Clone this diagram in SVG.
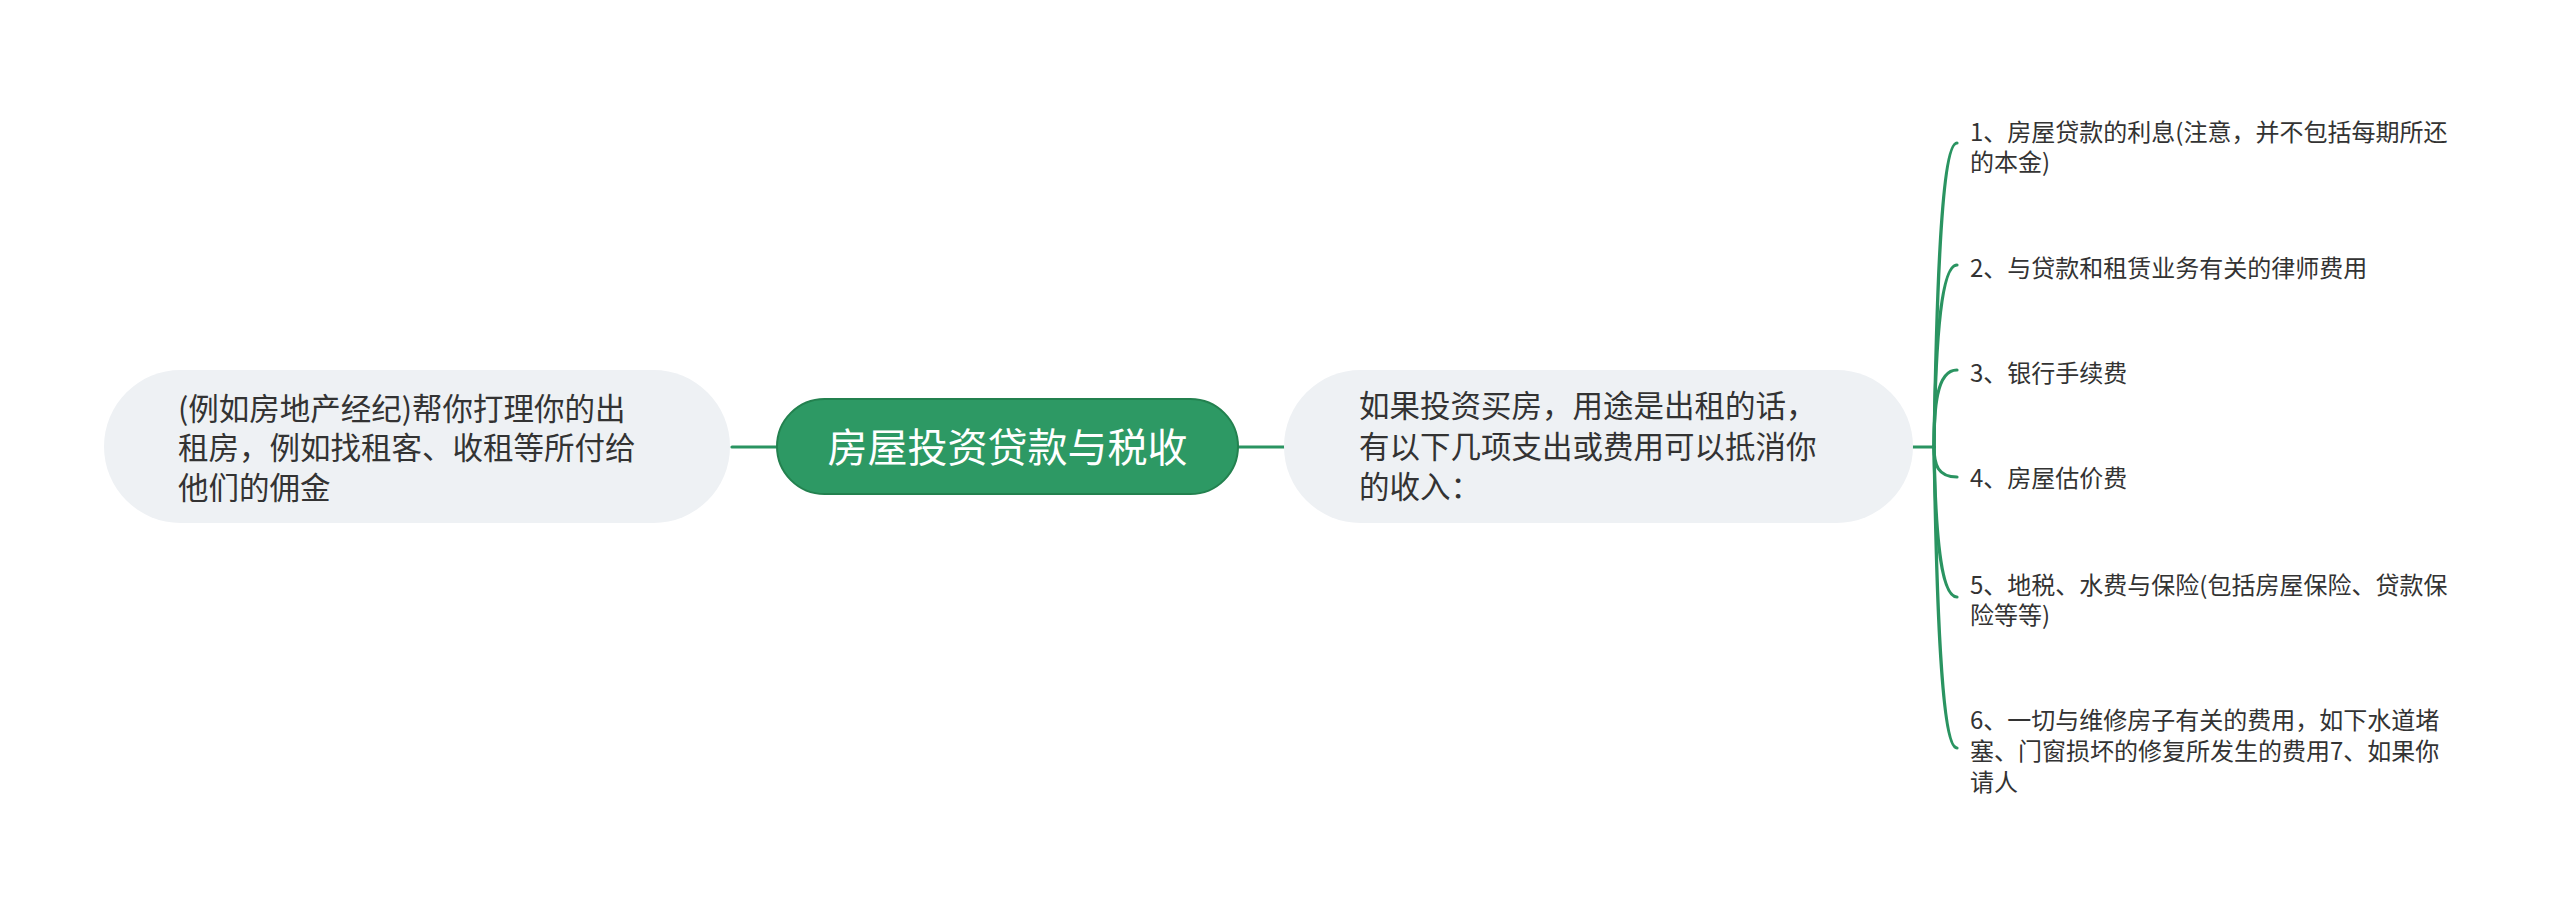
<svg xmlns="http://www.w3.org/2000/svg" width="2560" height="909" viewBox="0 0 2560 909">
<style>
.t{font-family:"Noto Sans CJK SC","Noto Sans",sans-serif;fill:#333333}
.m{font-size:30.5px}
.s{font-size:24px}
.c{font-family:"Noto Sans CJK SC","Noto Sans",sans-serif;font-size:40px;fill:#ffffff}
.n{fill:#eef1f4}
.l{fill:none;stroke:#2a9461;stroke-width:3.2;stroke-linecap:round}
</style>
<rect width="2560" height="909" fill="#ffffff"/>
<g id="connectors">
<path class="l" d="M732,447 L777,447"/>
<path class="l" d="M1238,447 L1284,447"/>
<path class="l" d="M1913,447 L1934,447"/>
<path class="l" d="M1934,447 C1936,325 1940,143 1957,143"/>
<path class="l" d="M1934,447 C1935,375 1938,265 1957,265"/>
<path class="l" d="M1934,447 C1934,410 1936,370 1957,370"/>
<path class="l" d="M1934,447 C1934,465 1938,477 1957,477"/>
<path class="l" d="M1934,447 C1935,510 1938,597 1957,597"/>
<path class="l" d="M1934,447 C1936,570 1940,748 1957,748"/>
</g>
<g id="center">
<rect x="777" y="399" width="461" height="95" rx="47.5" fill="#2d9964" stroke="#23814f" stroke-width="2"/>
<text class="c" x="1007.5" y="462" text-anchor="middle">房屋投资贷款与税收</text>
</g>
<g id="left-node">
<rect class="n" x="104" y="370" width="626" height="153" rx="76.5"/>
<text class="t m" x="178" y="420">(例如房地产经纪)帮你打理你的出</text>
<text class="t m" x="178" y="459">租房，例如找租客、收租等所付给</text>
<text class="t m" x="178" y="499">他们的佣金</text>
</g>
<g id="right-node">
<rect class="n" x="1284" y="370" width="629" height="153" rx="76.5"/>
<text class="t m" x="1359" y="417">如果投资买房，用途是出租的话，</text>
<text class="t m" x="1359" y="458">有以下几项支出或费用可以抵消你</text>
<text class="t m" x="1359" y="498">的收入：</text>
</g>
<g id="item1">
<text class="t s" x="1970" y="141">1、房屋贷款的利息(注意，并不包括每期所还</text>
<text class="t s" x="1970" y="171">的本金)</text>
</g>
<g id="item2">
<text class="t s" x="1970" y="277">2、与贷款和租赁业务有关的律师费用</text>
</g>
<g id="item3">
<text class="t s" x="1970" y="382">3、银行手续费</text>
</g>
<g id="item4">
<text class="t s" x="1970" y="487">4、房屋估价费</text>
</g>
<g id="item5">
<text class="t s" x="1970" y="594">5、地税、水费与保险(包括房屋保险、贷款保</text>
<text class="t s" x="1970" y="624">险等等)</text>
</g>
<g id="item6">
<text class="t s" x="1970" y="729">6、一切与维修房子有关的费用，如下水道堵</text>
<text class="t s" x="1970" y="760">塞、门窗损坏的修复所发生的费用7、如果你</text>
<text class="t s" x="1970" y="791">请人</text>
</g>
</svg>
